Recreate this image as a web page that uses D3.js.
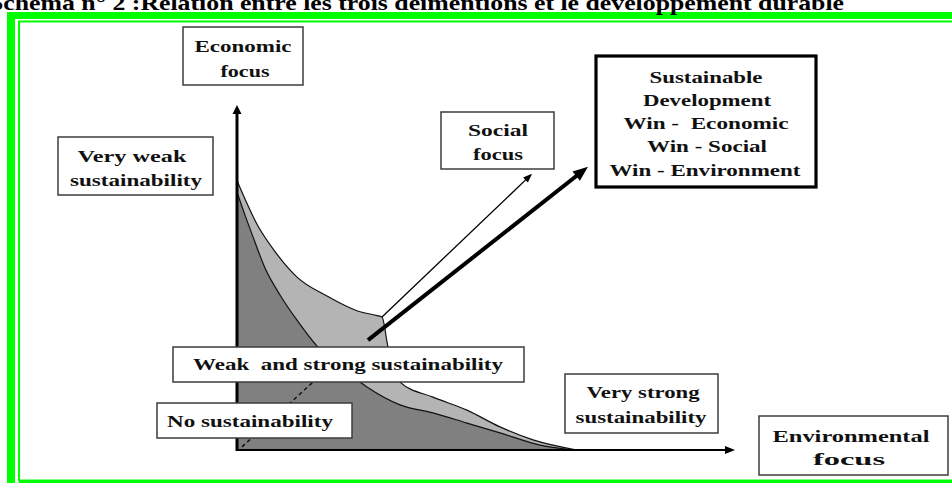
<!DOCTYPE html>
<html>
<head>
<meta charset="utf-8">
<script src="https://cdn.jsdelivr.net/npm/d3@7"></script>
<style>
html,body{margin:0;padding:0;background:#fff;overflow:hidden;}
svg{display:block;}
</style>
</head>
<body>
<svg id="chart" width="952" height="483"></svg>
<script>
// ---------- data ----------
const titleText = "Schéma n° 2 :Relation entre les trois deimentions et le développement durable";

// outer boundary of "weak and strong sustainability" zone (x = environmental, y = economic)
const lightCurveX = [0, 0.12, 0.4, 0.76, 1.2, 1.8, 2.4, 2.8, 2.9, 3.02, 3.16, 3.26, 3.92, 4.6, 5.26, 5.92, 6.8];
const lightCurveY = [7.7, 7.3, 6.45, 5.67, 4.94, 4.4, 3.98, 3.84, 3.8, 2.94, 2.23, 1.94, 1.51, 1.14, 0.66, 0.29, 0];

// boundary of "no sustainability" zone
const darkCurveX = [0, 0.16, 0.32, 0.56, 0.86, 1.2, 1.6, 2.06, 2.6, 3.26, 3.92, 4.6, 5.26, 6.06, 6.76];
const darkCurveY = [7.37, 6.71, 6.09, 5.2, 4.43, 3.71, 2.97, 2.4, 1.8, 1.29, 1.06, 0.77, 0.49, 0.14, 0];

// arrows: [x1, y1, x2, y2]
const socialArrow = [2.9, 3.8, 5.9, 7.89];
const sustainableArrow = [2.62, 3.14, 7.02, 8.09];
const dashedLine = [0.1, 0.09, 1.52, 1.94];
const axisEnds = { xMax: 9.96, yMax: 9.86 };

const boxTexts = [
  ["Economic", "focus"],
  ["Very weak", "sustainability"],
  ["Social", "focus"],
  ["Sustainable", "Development", "Win -  Economic", "Win - Social", "Win - Environment"],
  ["Weak  and strong sustainability"],
  ["No sustainability"],
  ["Very strong", "sustainability"],
  ["Environmental", "focus"]
];

// ---------- layout ----------
const svg = d3.select("#chart");
const x = d3.scaleLinear().domain([0, 10]).range([237, 737]);
const y = d3.scaleLinear().domain([0, 10]).range([450, 100]);

const boxLayout = [
  {x:183, y:27, w:120, h:58, sw:1.5, base:[52,77], tw:[97,49], cx:[243,245]},
  {x:58, y:137, w:155, h:58, sw:1.5, base:[162,186], tw:[109,132], cx:[132,136]},
  {x:441, y:112, w:113, h:57, sw:1.5, base:[136,160], tw:[60,50], cx:[498,498]},
  {x:596, y:56, w:220, h:131, sw:3.2, base:[83,106,129,152,176], tw:[113,128,165,120,191], cx:[706,707,706,707,705]},
  {x:173, y:347, w:351, h:35, sw:1.5, base:[370], tw:[310], cx:[348]},
  {x:157, y:403, w:195, h:35, sw:1.5, base:[427], tw:[166], cx:[250]},
  {x:565, y:374, w:153, h:59, sw:1.5, base:[398,423], tw:[113,131], cx:[643,641]},
  {x:759, y:416, w:189, h:59, sw:1.5, base:[442,465], tw:[157,72], cx:[851,849]}
];

// green frame
svg.append("rect").attr("x", 7).attr("y", 12).attr("width", 960).attr("height", 7).attr("fill", "#00ff00");
svg.append("rect").attr("x", 7).attr("y", 12).attr("width", 8).attr("height", 480).attr("fill", "#00ff00");
svg.append("rect").attr("x", 19).attr("y", 21.5).attr("width", 960).attr("height", 459).attr("fill", "none")
  .attr("stroke", "#00ff00").attr("stroke-width", 2);
svg.append("rect").attr("x", 19).attr("y", 480).attr("width", 960).attr("height", 3).attr("fill", "#00ff00");

// title (top is cut off in the reference as well)
svg.append("text").attr("x", -11).attr("y", 10)
  .attr("font-family", "Liberation Serif, Times New Roman, serif").attr("font-weight", "bold")
  .attr("font-size", 21).attr("textLength", 855).attr("lengthAdjust", "spacingAndGlyphs")
  .attr("fill", "#000").text(titleText);

// areas
const light = lightCurveX.map((v, i) => ({x: v, y: lightCurveY[i]}));
const dark = darkCurveX.map((v, i) => ({x: v, y: darkCurveY[i]}));
const curve = d3.curveMonotoneX;
const area = d3.area().x(d => x(d.x)).y0(y(0)).y1(d => y(d.y)).curve(curve);
const line = d3.line().x(d => x(d.x)).y(d => y(d.y)).curve(curve);

svg.append("path").datum(light).attr("d", area).attr("fill", "#b4b4b4");
svg.append("path").datum(light).attr("d", line).attr("fill", "none").attr("stroke", "#111").attr("stroke-width", 1.2);
svg.append("path").datum(dark).attr("d", area).attr("fill", "#808080");
svg.append("path").datum(dark).attr("d", line).attr("fill", "none").attr("stroke", "#111").attr("stroke-width", 1.2);

// dashed line
svg.append("line")
  .attr("x1", x(dashedLine[0])).attr("y1", y(dashedLine[1]))
  .attr("x2", x(dashedLine[2])).attr("y2", y(dashedLine[3]))
  .attr("stroke", "#111").attr("stroke-width", 1.5).attr("stroke-dasharray", "4,3");

// arrow helper
function arrow(x1, y1, x2, y2, sw, headLen, headHalf) {
  const dx = x2 - x1, dy = y2 - y1, L = Math.hypot(dx, dy);
  const ux = dx / L, uy = dy / L;
  const bx = x2 - ux * headLen, by = y2 - uy * headLen;
  svg.append("line").attr("x1", x1).attr("y1", y1).attr("x2", bx + ux * 1).attr("y2", by + uy * 1)
    .attr("stroke", "#000").attr("stroke-width", sw);
  svg.append("path")
    .attr("d", `M${x2},${y2}L${bx - uy * headHalf},${by + ux * headHalf}L${bx + uy * headHalf},${by - ux * headHalf}Z`)
    .attr("fill", "#000");
}

// axes
arrow(x(0), y(0) + 1, x(0), y(axisEnds.yMax), 3, 9, 4.5);
arrow(x(0), y(0), x(axisEnds.xMax), y(0), 2, 10, 4);

// social / sustainable arrows
arrow(x(socialArrow[0]), y(socialArrow[1]), x(socialArrow[2]), y(socialArrow[3]), 1.3, 9, 3.5);
arrow(x(sustainableArrow[0]), y(sustainableArrow[1]), x(sustainableArrow[2]), y(sustainableArrow[3]), 4, 15, 6);

// boxes
boxTexts.forEach((lines, i) => {
  const b = boxLayout[i];
  svg.append("rect").attr("x", b.x).attr("y", b.y).attr("width", b.w).attr("height", b.h)
    .attr("fill", "#fff").attr("stroke", i === 3 ? "#000" : "#3c3c3c").attr("stroke-width", b.sw);
  lines.forEach((t, j) => {
    svg.append("text").attr("x", b.cx[j]).attr("y", b.base[j])
      .attr("text-anchor", "middle")
      .attr("font-family", "Liberation Serif, Times New Roman, serif").attr("font-weight", "bold")
      .attr("font-size", 17).attr("fill", "#111")
      .attr("textLength", b.tw[j]).attr("lengthAdjust", "spacingAndGlyphs")
      .style("white-space", "pre")
      .text(t);
  });
});
</script>
</body>
</html>
